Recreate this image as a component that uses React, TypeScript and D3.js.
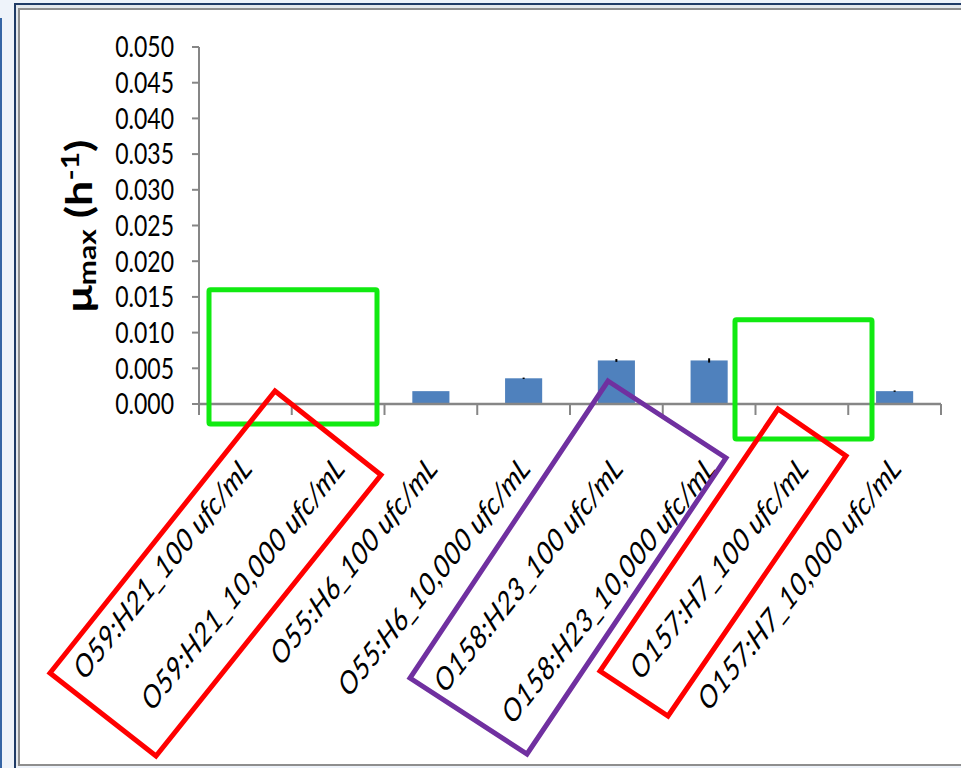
import React from "react";
import * as d3 from "d3";

// Maximum specific growth rate per strain and inoculum level
const categories = [
  "O59:H21_100 ufc/mL",
  "O59:H21_10,000 ufc/mL",
  "O55:H6_100 ufc/mL",
  "O55:H6_10,000 ufc/mL",
  "O158:H23_100 ufc/mL",
  "O158:H23_10,000 ufc/mL",
  "O157:H7_100 ufc/mL",
  "O157:H7_10,000 ufc/mL",
];
const muMax = [0, 0, 0.0018, 0.0036, 0.0061, 0.0061, 0, 0.0018];
const muErr = [0, 0, 0, 0.0001, 0.0002, 0.0003, 0, 0.0001];
const yTickValues = [0, 0.005, 0.01, 0.015, 0.02, 0.025, 0.03, 0.035, 0.04, 0.045, 0.05];

// Highlight frames drawn over the chart
const greenFrames = [
  { x0: 209, x1: 377, top: 0.016, y1: 424 },
  { x0: 735, x1: 872, top: 0.0118, y1: 439 },
];
const tiltedFrames = [
  { color: "#FF0000", pts: [[275, 391], [381, 475], [156, 756], [50, 673]] },
  { color: "#7030A0", pts: [[608, 381], [726, 458], [527, 754], [410, 678]] },
  { color: "#FF0000", pts: [[778, 409], [846, 456], [668, 716], [600, 671]] },
];

const W = 961;
const H = 768;
const plot = { left: 199, right: 941, top: 47, bottom: 404 };
const STRETCH = "scale(1,1.25)";
const font = "Lato, 'Open Sans', sans-serif";
const axisColor = "#868686";

export default function App() {
  const x = d3
    .scaleBand<string>()
    .domain(categories)
    .range([plot.left, plot.right])
    .paddingInner(0.6)
    .paddingOuter(0.3);
  const y = d3.scaleLinear().domain([0, 0.05]).range([plot.bottom, plot.top]);
  const step = x.step();
  const boundaries = d3.range(categories.length + 1).map((i) => plot.left + i * step);
  const fmt = d3.format(".3f");

  return (
    <svg
      width={W}
      height={H}
      style={{ position: "absolute", left: 0, top: 0, display: "block" }}
      fontFamily={font}
    >
      {/* window chrome */}
      <rect x={0} y={0} width={W} height={H} fill="#EEF3FA" />
      <rect x={0} y={18} width={2} height={H - 18} fill="#3565A5" />
      <rect x={14} y={3} width={W - 14} height={2} fill="#1F3B66" />
      <rect x={14} y={3} width={2} height={H - 3} fill="#1F3B66" />
      <rect x={16} y={5} width={W - 16} height={H - 7} fill="#E4E8EC" />
      <rect x={18} y={8} width={W - 18} height={758} fill="#FFFFFF" stroke="none" />
      <line x1={19} y1={9} x2={W} y2={9} stroke="#8E8E8E" strokeWidth={2} />
      <line x1={19} y1={8} x2={19} y2={766} stroke="#8E8E8E" strokeWidth={2} />
      <line x1={18} y1={765} x2={W} y2={765} stroke="#8E8E8E" strokeWidth={2} />

      {/* bars */}
      {categories.map((c, i) =>
        muMax[i] > 0 ? (
          <rect
            key={c}
            x={x(c)}
            y={y(muMax[i])}
            width={x.bandwidth()}
            height={y(0) - y(muMax[i])}
            fill="#4F81BD"
          />
        ) : null
      )}
      {/* error bars */}
      {categories.map((c, i) =>
        muErr[i] > 0 ? (
          <line
            key={"e" + c}
            x1={(x(c) as number) + x.bandwidth() / 2}
            x2={(x(c) as number) + x.bandwidth() / 2}
            y1={y(muMax[i] + muErr[i])}
            y2={y(muMax[i] - muErr[i])}
            stroke="#000"
            strokeWidth={2}
          />
        ) : null
      )}

      {/* y axis */}
      <line x1={plot.left} x2={plot.left} y1={plot.top} y2={plot.bottom} stroke={axisColor} strokeWidth={2} />
      {yTickValues.map((v) => (
        <g key={v}>
          <line x1={plot.left - 7} x2={plot.left} y1={y(v)} y2={y(v)} stroke={axisColor} strokeWidth={2} />
          <text
            transform={`translate(174,${y(v)}) ${STRETCH}`}
            y={8.3}
            textAnchor="end"
            fontSize={23}
            fill="#000"
          >
            {fmt(v)}
          </text>
        </g>
      ))}

      {/* x axis */}
      <line x1={plot.left} x2={plot.right} y1={plot.bottom} y2={plot.bottom} stroke={axisColor} strokeWidth={2.5} />
      {boundaries.map((bx, i) => (
        <line key={i} x1={bx} x2={bx} y1={plot.bottom} y2={plot.bottom + 11} stroke={axisColor} strokeWidth={2} />
      ))}
      {categories.map((c) => (
        <text
          key={"l" + c}
          transform={`translate(${(x(c) as number) + x.bandwidth() / 2 + 8},470) ${STRETCH} rotate(-45)`}
          textAnchor="end"
          fontSize={25.5}
          fontStyle="italic"
          fill="#000"
        >
          {c}
        </text>
      ))}

      {/* y axis title */}
      <text
        transform={`translate(92,226) ${STRETCH} rotate(-90)`}
        textAnchor="middle"
        fontWeight="bold"
        fontSize={36}
        fill="#000"
      >
        <tspan>μ</tspan>
        <tspan fontSize={24} dy={4}>max</tspan>
        <tspan dy={-4}> (h</tspan>
        <tspan fontSize={24} dy={-13}>-1</tspan>
        <tspan dy={13}>)</tspan>
      </text>

      {/* highlight frames */}
      {greenFrames.map((g, i) => (
        <rect
          key={"g" + i}
          x={g.x0}
          y={y(g.top)}
          width={g.x1 - g.x0}
          height={g.y1 - y(g.top)}
          fill="none"
          stroke="#11EA11"
          strokeWidth={5}
          rx={1.5}
        />
      ))}
      {tiltedFrames.map((f, i) => (
        <polygon
          key={"t" + i}
          points={f.pts.map((p) => p.join(",")).join(" ")}
          fill="none"
          stroke={f.color}
          strokeWidth={5}
        />
      ))}
    </svg>
  );
}
